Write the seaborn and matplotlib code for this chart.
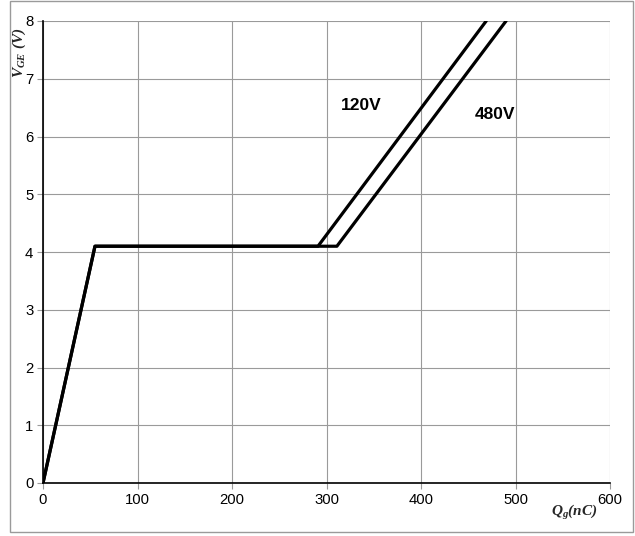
import matplotlib
matplotlib.use("Agg")
import matplotlib.pyplot as plt
import seaborn as sns
import pandas as pd
from matplotlib.patches import Rectangle

# Data
q_120 = [0, 55, 291, 469]
v_120 = [0, 4.1, 4.1, 8]
q_480 = [0, 55, 311, 490]
v_480 = [0, 4.1, 4.1, 8]
x_ticks = [0, 100, 200, 300, 400, 500, 600]
y_ticks = [0, 1, 2, 3, 4, 5, 6, 7, 8]
labels = ["120V", "480V"]
label_pos = [(337, 6.53), (478, 6.38)]

sns.set_theme(style="white")
plt.rcParams['font.family'] = ['Liberation Sans', 'DejaVu Sans']
plt.rcParams['mathtext.fontset'] = 'custom'
plt.rcParams['mathtext.it'] = 'Liberation Serif:italic:bold'
plt.rcParams['mathtext.rm'] = 'Liberation Serif:italic:bold'
plt.rcParams['mathtext.bf'] = 'Liberation Serif:italic:bold'

fig = plt.figure(figsize=(6.35, 5.36), dpi=100)
ax = fig.add_axes([43/635, 1-483/536, (610-43)/635, (483-21)/536])

df1 = pd.DataFrame({"q": q_120, "v": v_120})
df2 = pd.DataFrame({"q": q_480, "v": v_480})
sns.lineplot(data=df1, x="q", y="v", sort=False, color="black", linewidth=2.3, ax=ax, zorder=3)
sns.lineplot(data=df2, x="q", y="v", sort=False, color="black", linewidth=2.3, ax=ax, zorder=3)

ax.set_xlim(0, 600)
ax.set_ylim(0, 8)
ax.set_xticks(x_ticks)
ax.set_yticks(y_ticks)
ax.set_xticklabels([str(t) for t in x_ticks], fontsize=10.7)
ax.set_yticklabels([str(t) for t in y_ticks], fontsize=10.7)
ax.grid(True, color="#9a9a9a", linewidth=0.8)
ax.set_axisbelow(True)
ax.tick_params(axis="both", which="both", length=4, width=0.8, color="#9a9a9a",
               direction="out", pad=3, bottom=True, left=True, labelcolor="black")
for s in ["top", "right"]:
    ax.spines[s].set_visible(False)
for s in ["left", "bottom"]:
    ax.spines[s].set_color("black")
    ax.spines[s].set_linewidth(1.2)
ax.set_xlabel("")
ax.set_ylabel("")

for (t, (x, y)) in zip(labels, label_pos):
    ax.text(x, y, t, fontsize=12.5, fontweight="bold", ha="center", va="center", color="black")

fig.text(19/635, 1-27/536, r"$V_{GE}$ (V)", rotation=90, ha="center", va="top",
         fontsize=11, fontfamily="Liberation Serif", fontstyle="italic", fontweight="bold")
fig.text(574/635, 1-513/536, r"$Q_{g}$(nC)", ha="center", va="center",
         fontsize=11, fontfamily="Liberation Serif", fontstyle="italic", fontweight="bold")

fig.patches.append(Rectangle((10/635, 4/536), 623/635, 531/536, transform=fig.transFigure,
                             fill=False, edgecolor="#9a9a9a", linewidth=1.0))

fig.savefig("out.png", dpi=100)
